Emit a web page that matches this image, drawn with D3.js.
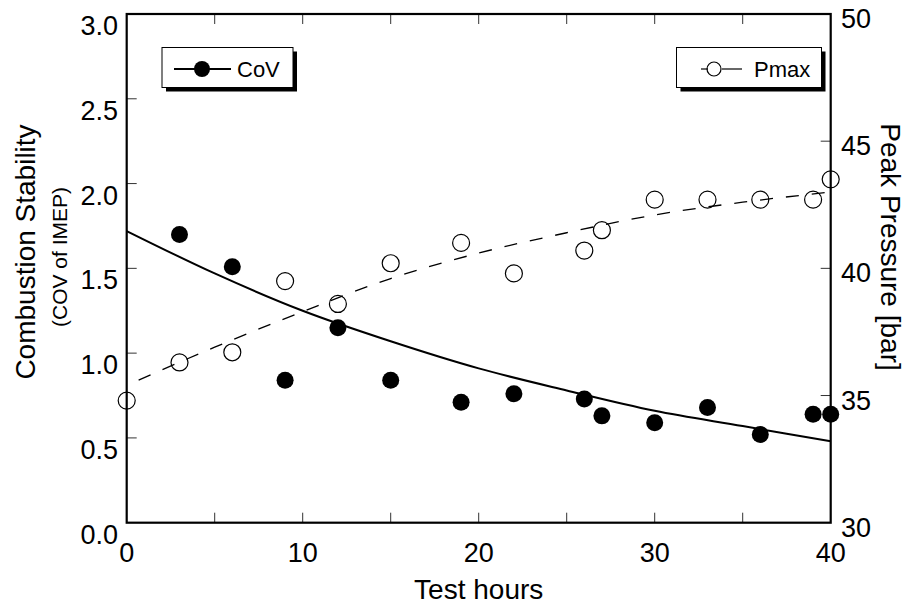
<!DOCTYPE html>
<html>
<head>
<meta charset="utf-8">
<script src="https://cdn.jsdelivr.net/npm/d3@7"></script>
<style>
  body { margin: 0; background: #fff; }
  text { font-family: "Liberation Sans", Arial, sans-serif; fill: #000; }
</style>
</head>
<body>
<script>
// data
var covHours = [3, 6, 9, 12, 15, 19, 22, 26, 27, 30, 33, 36, 39, 40];
var covValues = [1.70, 1.51, 0.84, 1.15, 0.84, 0.71, 0.76, 0.73, 0.63, 0.59, 0.68, 0.52, 0.64, 0.64];
var pmaxHours = [0, 3, 6, 9, 12, 15, 19, 22, 26, 27, 30, 33, 36, 39, 40];
var pmaxValues = [34.8, 36.3, 36.7, 39.5, 38.6, 40.2, 41.0, 39.8, 40.7, 41.5, 42.7, 42.7, 42.7, 42.7, 43.5];
var fitHours = [0, 5, 10, 15, 20, 25, 30, 35, 40];
var covFit = [1.72, 1.47, 1.25, 1.07, 0.91, 0.78, 0.66, 0.57, 0.48];
var pmaxFit = [35.4, 36.9, 38.3, 39.6, 40.6, 41.4, 42.1, 42.6, 43.0];
var xTicks = [0, 10, 20, 30, 40];
var leftTicks = [0, 0.5, 1.0, 1.5, 2.0, 2.5, 3.0];
var rightTicks = [30, 35, 40, 45, 50];

var width = 917, height = 608;
var pLeft = 126.7, pRight = 830.7, pTop = 14, pBottom = 522.7; // khung ve

var svg = d3.select("body").append("svg")
    .attr("width", width)
    .attr("height", height);

var x = d3.scaleLinear().domain([0, 40]).range([pLeft, pRight]);
var yL = d3.scaleLinear().domain([0, 3]).range([pBottom, pTop]);
var yR = d3.scaleLinear().domain([30, 50]).range([pBottom, pTop]);

// inner ticks
var tk = svg.append("g").attr("stroke", "#333").attr("stroke-width", 1);
d3.range(5, 40, 5).forEach(function(h) {
    tk.append("line").attr("x1", x(h)).attr("x2", x(h)).attr("y1", pBottom).attr("y2", pBottom - 10);
    tk.append("line").attr("x1", x(h)).attr("x2", x(h)).attr("y1", pTop).attr("y2", pTop + 10);
});
leftTicks.slice(1, -1).forEach(function(v) {
    tk.append("line").attr("x1", pLeft).attr("x2", pLeft + 10).attr("y1", yL(v)).attr("y2", yL(v));
});
rightTicks.slice(1, -1).forEach(function(v) {
    tk.append("line").attr("x1", pRight).attr("x2", pRight - 10).attr("y1", yR(v)).attr("y2", yR(v));
});

// tick labels
svg.append("g").selectAll("text").data(xTicks).enter().append("text")
    .attr("x", function(d) { return x(d); })
    .attr("y", 562)
    .attr("text-anchor", "middle")
    .style("font-size", "27px")
    .text(function(d) { return d; });

svg.append("g").selectAll("text").data(leftTicks).enter().append("text")
    .attr("x", 118)
    .attr("y", function(d) { return yL(d) + 21; })
    .attr("text-anchor", "end")
    .style("font-size", "27px")
    .text(function(d) { return d3.format(".1f")(d); });

svg.append("g").selectAll("text").data(rightTicks).enter().append("text")
    .attr("x", 841)
    .attr("y", function(d) { return yR(d) + 14; })
    .style("font-size", "27px")
    .text(function(d) { return d; });

// axis titles
svg.append("text")
    .attr("x", x(20)).attr("y", 599)
    .attr("text-anchor", "middle")
    .style("font-size", "28px")
    .text("Test hours");

svg.append("text")
    .attr("transform", "translate(35,252) rotate(-90)")
    .attr("text-anchor", "middle")
    .style("font-size", "28px")
    .text("Combustion Stability");

svg.append("text")
    .attr("transform", "translate(67,257) rotate(-90)")
    .attr("text-anchor", "middle")
    .style("font-size", "21px")
    .text("(COV of IMEP)");

svg.append("text")
    .attr("transform", "translate(881,247) rotate(90)")
    .attr("text-anchor", "middle")
    .style("font-size", "28px")
    .text("Peak Pressure [bar]");

// fit curves
var covLine = d3.line()
    .x(function(d, i) { return x(fitHours[i]); })
    .y(function(d) { return yL(d); })
    .curve(d3.curveMonotoneX);
svg.append("path").datum(covFit)
    .attr("d", covLine)
    .attr("fill", "none").attr("stroke", "#000").attr("stroke-width", 2);

var pmaxLine = d3.line()
    .x(function(d, i) { return x(fitHours[i]); })
    .y(function(d) { return yR(d); })
    .curve(d3.curveMonotoneX);
svg.append("path").datum(pmaxFit)
    .attr("d", pmaxLine)
    .attr("fill", "none").attr("stroke", "#000").attr("stroke-width", 1.3)
    .attr("stroke-dasharray", "13,13")
    .attr("stroke-dashoffset", -13);

// points
svg.append("g").selectAll("circle").data(pmaxValues).enter().append("circle")
    .attr("cx", function(d, i) { return x(pmaxHours[i]); })
    .attr("cy", function(d) { return yR(d); })
    .attr("r", 8.5)
    .attr("fill", "none").attr("stroke", "#000").attr("stroke-width", 1.2);

svg.append("g").selectAll("circle").data(covValues).enter().append("circle")
    .attr("cx", function(d, i) { return x(covHours[i]); })
    .attr("cy", function(d) { return yL(d); })
    .attr("r", 8.5)
    .attr("fill", "#000");

// frame
svg.append("rect")
    .attr("x", pLeft).attr("y", pTop)
    .attr("width", pRight - pLeft).attr("height", pBottom - pTop)
    .attr("fill", "none").attr("stroke", "#000").attr("stroke-width", 2.2);

// legends
function legendBox(bx, by, bw, bh) {
    svg.append("rect").attr("x", bx + 4).attr("y", by + 4).attr("width", bw).attr("height", bh).attr("fill", "#000");
    svg.append("rect").attr("x", bx).attr("y", by).attr("width", bw).attr("height", bh)
        .attr("fill", "#fff").attr("stroke", "#000").attr("stroke-width", 1);
}

legendBox(162, 47.5, 131, 40);
svg.append("line").attr("x1", 174).attr("x2", 231).attr("y1", 69).attr("y2", 69)
    .attr("stroke", "#000").attr("stroke-width", 2);
svg.append("circle").attr("cx", 202).attr("cy", 69).attr("r", 8).attr("fill", "#000");
svg.append("text").attr("x", 237).attr("y", 77).style("font-size", "22px").text("CoV");

legendBox(676.5, 47.5, 145, 40);
svg.append("line").attr("x1", 701).attr("x2", 708).attr("y1", 69).attr("y2", 69)
    .attr("stroke", "#000").attr("stroke-width", 1.2);
svg.append("line").attr("x1", 722).attr("x2", 742).attr("y1", 69).attr("y2", 69)
    .attr("stroke", "#000").attr("stroke-width", 1.2);
svg.append("circle").attr("cx", 714).attr("cy", 69).attr("r", 7)
    .attr("fill", "none").attr("stroke", "#000").attr("stroke-width", 1.2);
svg.append("text").attr("x", 754).attr("y", 77).style("font-size", "22px").text("Pmax");
</script>
</body>
</html>
